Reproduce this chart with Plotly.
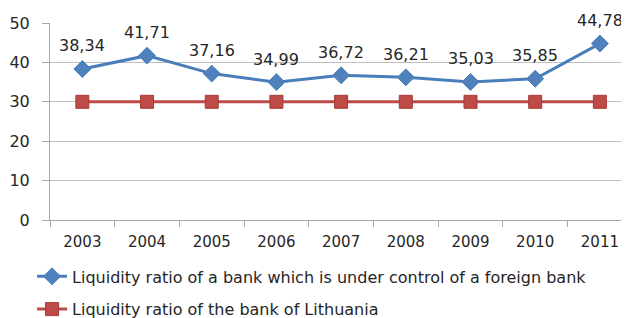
import plotly.graph_objects as go

years = ["2003", "2004", "2005", "2006", "2007", "2008", "2009", "2010", "2011"]
foreign = [38.34, 41.71, 37.16, 34.99, 36.72, 36.21, 35.03, 35.85, 44.78]
lithuania = [30, 30, 30, 30, 30, 30, 30, 30, 30]
foreign_labels = ["38,34", "41,71", "37,16", "34,99", "36,72", "36,21", "35,03", "35,85", "44,78"]
y_ticks = [0, 10, 20, 30, 40, 50]

FONT = "'DejaVu Sans', sans-serif"
BLUE = "#4A7EBB"
RED = "#BE4B48"
TXT = "#262626"

fig = go.Figure()
fig.add_trace(go.Scatter(
    x=years, y=foreign, mode="lines+markers",
    name="Liquidity ratio of a bank which is under control of a foreign bank",
    line=dict(color=BLUE, width=3),
    marker=dict(symbol="diamond", size=13, color="#4F81BD", line=dict(color=BLUE, width=1)),
    legendgroup="a",
))
fig.add_trace(go.Scatter(
    x=years, y=lithuania, mode="lines+markers",
    name="Liquidity ratio of the bank of Lithuania",
    line=dict(color=RED, width=3),
    marker=dict(symbol="square", size=13, color=RED, line=dict(color="#A53B38", width=1)),
    legendgroup="b",
))

for i, (y, t) in enumerate(zip(foreign, foreign_labels)):
    fig.add_annotation(x=i, y=y, xref="x", yref="y", text=t, showarrow=False, yshift=23,
                       font=dict(family=FONT, size=16, color=TXT))

# page body has an 8px margin: shift the figure accordingly
fig.update_layout(
    width=621, height=310,
    margin=dict(l=42, r=0, t=15, b=98, autoexpand=False),
    paper_bgcolor="white", plot_bgcolor="white",
    font=dict(family=FONT, size=15, color=TXT),
    showlegend=True,
    legend=dict(orientation="v", x=-0.031, xanchor="left", y=-0.2, yanchor="top",
                font=dict(family=FONT, size=16, color=TXT), tracegroupgap=9,
                bgcolor="rgba(0,0,0,0)"),
    xaxis=dict(type="category", range=[-0.5, 8.45], showgrid=False, automargin=False,
               showline=True, linecolor="#A6A6A6", linewidth=1,
               ticks="outside", ticklen=6, tickcolor="#A6A6A6", tickson="boundaries",
               ticklabelstandoff=8,
               tickfont=dict(family=FONT, size=15, color=TXT), fixedrange=True),
    yaxis=dict(range=[0, 50], tickvals=y_ticks, showgrid=True, gridcolor="#BFBFBF", gridwidth=1,
               showline=True, linecolor="#A6A6A6", linewidth=1, zeroline=False, automargin=False,
               ticks="outside", ticklen=7, tickcolor="#A6A6A6", ticklabelstandoff=9,
               tickfont=dict(family=FONT, size=16, color=TXT), fixedrange=True),
)

fig.write_html("out.html")
